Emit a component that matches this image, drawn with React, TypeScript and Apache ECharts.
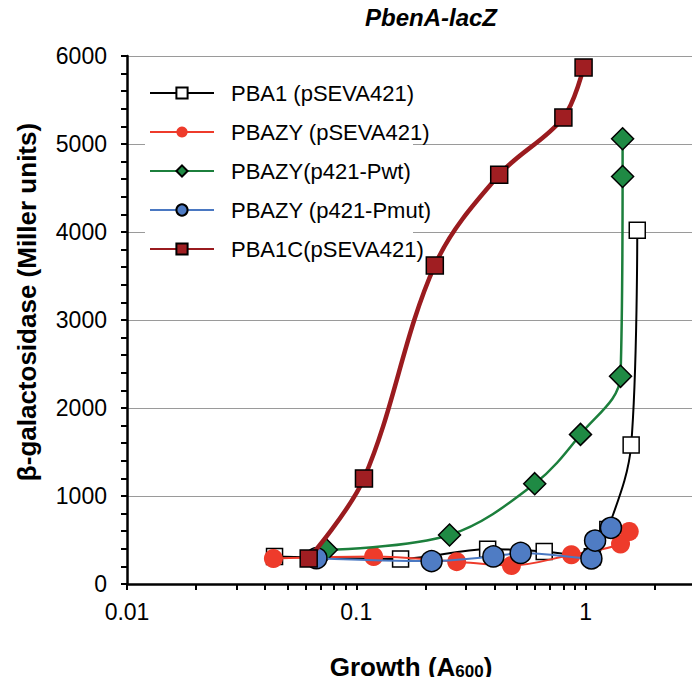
import React, { useEffect, useRef } from "react";
import * as echarts from "echarts";

const seriesNames = [
  "PBA1 (pSEVA421)",
  "PBAZY (pSEVA421)",
  "PBAZY(p421-Pwt)",
  "PBAZY (p421-Pmut)",
  "PBA1C(pSEVA421)",
];

const pba1 = [
  [0.044, 313], [0.156, 285], [0.374, 395], [0.66, 370], [1.07, 310], [1.25, 620], [1.58, 1580], [1.68, 4020],
];
const pbazy = [
  [0.0435, 290], [0.119, 313], [0.274, 254], [0.475, 211], [0.867, 333], [1.42, 455], [1.55, 597],
];
const pwt = [
  [0.074, 390], [0.255, 557], [0.6, 1140], [0.95, 1700], [1.42, 2360], [1.45, 4630], [1.45, 5060],
];
const pmut = [
  [0.067, 293], [0.213, 260], [0.396, 313], [0.521, 353], [1.06, 291], [1.1, 493], [1.29, 638],
];
const pba1c = [
  [0.062, 290], [0.108, 1200], [0.22, 3620], [0.42, 4650], [0.8, 5300], [0.98, 5870],
];

const xLabelValues = [0.01, 0.1, 1];
const xTickValues = [
  0.01, 0.02, 0.03, 0.04, 0.05, 0.06, 0.07, 0.08, 0.09,
  0.1, 0.2, 0.3, 0.4, 0.5, 0.6, 0.7, 0.8, 0.9,
  1, 2, 3,
];

const FONT = "'Liberation Sans', Arial, sans-serif";

export default function App() {
  const ref = useRef<HTMLDivElement>(null);
  useEffect(() => {
    if (!ref.current) return;
    const chart = echarts.init(ref.current, null, { renderer: "svg" });
    const mk = (
      name: string,
      data: number[][],
      color: string,
      width: number,
      symbol: string,
      size: number,
      fill: string,
      border: string,
      bw: number,
      z: number
    ) => ({
      name,
      type: "line",
      data,
      smooth: 0.35,
      z,
      lineStyle: { color, width },
      symbol,
      symbolSize: size,
      showSymbol: true,
      itemStyle: { color: fill, borderColor: border, borderWidth: bw },
      emphasis: { disabled: true },
    });
    chart.setOption({
      animation: false,
      backgroundColor: "#fff",
      title: {
        text: "PbenA-lacZ",
        left: 360,
        top: 0,
        textStyle: { fontFamily: FONT, fontSize: 24, fontWeight: "bold", fontStyle: "italic", color: "#000" },
      },
      grid: { left: 127, right: 5, top: 56, bottom: 92, containLabel: false },
      legend: {
        orient: "vertical",
        left: 149,
        top: 72,
        padding: [10, 0, 0, 0],
        itemGap: 17,
        itemWidth: 64,
        itemHeight: 14,
        data: seriesNames,
        textStyle: { fontFamily: FONT, fontSize: 22, lineHeight: 22, color: "#000", padding: [0, 0, 0, 12] },
        z: 10,
      },
      graphic: [
        { type: "rect", z: 1, shape: { x: 145, y: 66, width: 268, height: 198 }, style: { fill: "#fff" } },
        {
          type: "text",
          x: 27,
          y: 302,
          rotation: Math.PI / 2,
          z: 5,
          style: {
            text: "β-galactosidase (Miller units)",
            font: `bold 26px ${FONT}`,
            fill: "#000",
            textAlign: "center",
            textVerticalAlign: "middle",
            align: "center",
            verticalAlign: "middle",
          },
        },
      ],
      xAxis: {
        type: "log",
        logBase: 10,
        min: 0.01,
        max: 3,
        name: "{a|Growth (A}{b|600}{a|)}",
        nameLocation: "middle",
        nameGap: 69,
        nameTextStyle: {
          rich: {
            a: { fontFamily: FONT, fontSize: 26, fontWeight: "bold", color: "#000" },
            b: { fontFamily: FONT, fontSize: 17, fontWeight: "bold", color: "#000", padding: [10, 0, 0, 0] },
          },
        },
        axisLine: { show: true, lineStyle: { color: "#000", width: 2.5 } },
        axisTick: { show: true, length: 6, lineStyle: { color: "#000", width: 2 }, customValues: xTickValues },
        axisLabel: {
          fontFamily: FONT,
          fontSize: 23,
          color: "#000",
          margin: 16,
          customValues: xLabelValues,
          formatter: (v: number) => String(v),
        },
        splitLine: { show: false },
        minorTick: { show: false },
      },
      yAxis: [
        {
          type: "value",
          min: 0,
          max: 6000,
          interval: 1000,
          axisLine: { show: true, lineStyle: { color: "#000", width: 2.5 } },
          axisTick: { show: true, length: 6, lineStyle: { color: "#000", width: 2 } },
          axisLabel: { fontFamily: FONT, fontSize: 23, color: "#000", margin: 20, formatter: (v: number) => String(v) },
          splitLine: { show: true, lineStyle: { color: "#9a9a9a", width: 1.2 } },
        },
        {
          type: "value",
          position: "left",
          min: 0,
          max: 6000,
          interval: 200,
          axisLine: { show: false },
          axisTick: { show: true, length: 6, lineStyle: { color: "#000", width: 2 } },
          axisLabel: { show: false },
          splitLine: { show: false },
        },
      ],
      series: [
        mk(seriesNames[0], pba1, "#000", 2, "rect", 16, "#fff", "#000", 1.5, 3),
        mk(seriesNames[1], pbazy, "#ee3b2b", 2, "circle", 19, "#ee3b2b", "#ee3b2b", 0, 4),
        mk(seriesNames[2], pwt, "#1c7f3c", 2.5, "diamond", 22, "#1f8a44", "#000", 1.5, 5),
        mk(seriesNames[3], pmut, "#4a78c2", 2, "circle", 21, "#4f7cc4", "#000", 1.5, 6),
        mk(seriesNames[4], pba1c, "#9a1b1f", 4.5, "rect", 17, "#a01e22", "#000", 1.5, 7),
      ],
    });
    return () => chart.dispose();
  }, []);
  return <div ref={ref} style={{ width: 700, height: 685, margin: -8 }} />;
}
